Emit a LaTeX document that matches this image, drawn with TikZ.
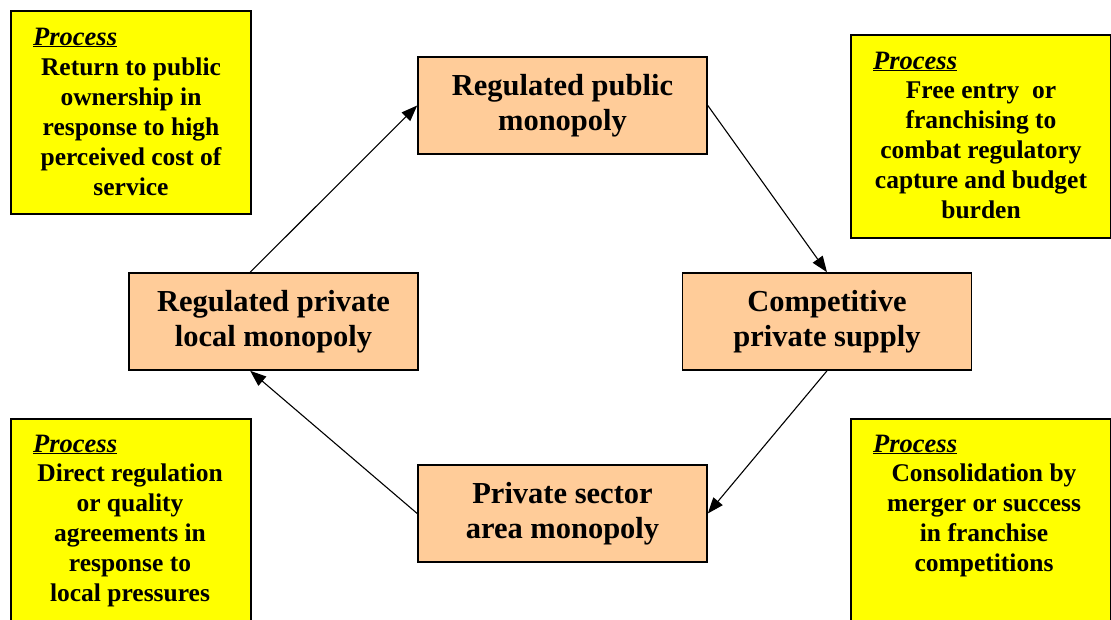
\documentclass[tikz,border=0pt]{standalone}
\usepackage{fontspec}
\setmainfont{Liberation Serif}
\usetikzlibrary{arrows.meta,calc}
\definecolor{peach}{HTML}{FFCC99}
\definecolor{yel}{HTML}{FFFF00}
\tikzset{
  statebox/.style={draw=black, line width=1.6pt, fill=peach, minimum width=289pt, minimum height=97pt,
    align=center, font=\fontsize{30.5}{35}\selectfont\bfseries, inner sep=0pt},
  procbox/.style={draw=black, line width=1.6pt, fill=yel, anchor=north west, inner sep=0pt},
  proctitle/.style={anchor=base west, inner sep=0pt, font=\fontsize{26.5}{29}\selectfont\bfseries\itshape},
  proctext/.style={anchor=north, inner sep=0pt, align=center, font=\fontsize{25.5}{30}\selectfont\bfseries},
  flow/.style={line width=1.1pt, -{Triangle[length=16pt,width=12pt]}}
}
\begin{document}
\begin{tikzpicture}[x=1pt,y=-1pt]
\useasboundingbox (0,0) rectangle (1111,619);
\clip (0,0) rectangle (1111,619);
% process boxes
\node[procbox, minimum width=240pt, minimum height=203pt] (p1) at (10,10) {};
\node[proctitle] (p1h) at (33,45) {\underline{Process}};
\node[proctext] (p1t) at (131,58) {Return to public\\ownership in\\response to high\\perceived cost of\\service};

\node[procbox, minimum width=260pt, minimum height=203pt] (p2) at (850,34) {};
\node[proctitle] (p2h) at (873,69) {\underline{Process}};
\node[proctext] (p2t) at (981,82) {Free entry\ \ or\\franchising to\\combat regulatory\\capture and budget\\burden};

\node[procbox, minimum width=240pt, minimum height=240pt] (p3) at (10,418) {};
\node[proctitle] (p3h) at (33,452) {\underline{Process}};
\node[proctext] (p3t) at (130,464) {Direct regulation\\or quality\\agreements in\\response to\\local pressures};

\node[procbox, minimum width=260pt, minimum height=240pt] (p4) at (850,418) {};
\node[proctitle] (p4h) at (873,452) {\underline{Process}};
\node[proctext] (p4t) at (984,464) {Consolidation by\\merger or success\\in franchise\\competitions};

% state boxes
\node[statebox] (T) at (562.5,105.5) {Regulated public\\monopoly};
\node[statebox] (L) at (273.5,321.5) {Regulated private\\local monopoly};
\node[statebox] (C) at (827,321.5) {Competitive\\private supply};
\node[statebox] (B) at (562.5,513.5) {Private sector\\area monopoly};

% connectors
\draw[flow] ($(L.north west)+(122,0)$) -- (T.west);
\draw[flow] (T.east) -- (C.north);
\draw[flow] (C.south) -- (B.east);
\draw[flow] (B.west) -- ($(L.south west)+(122,0)$);
\end{tikzpicture}
\end{document}
